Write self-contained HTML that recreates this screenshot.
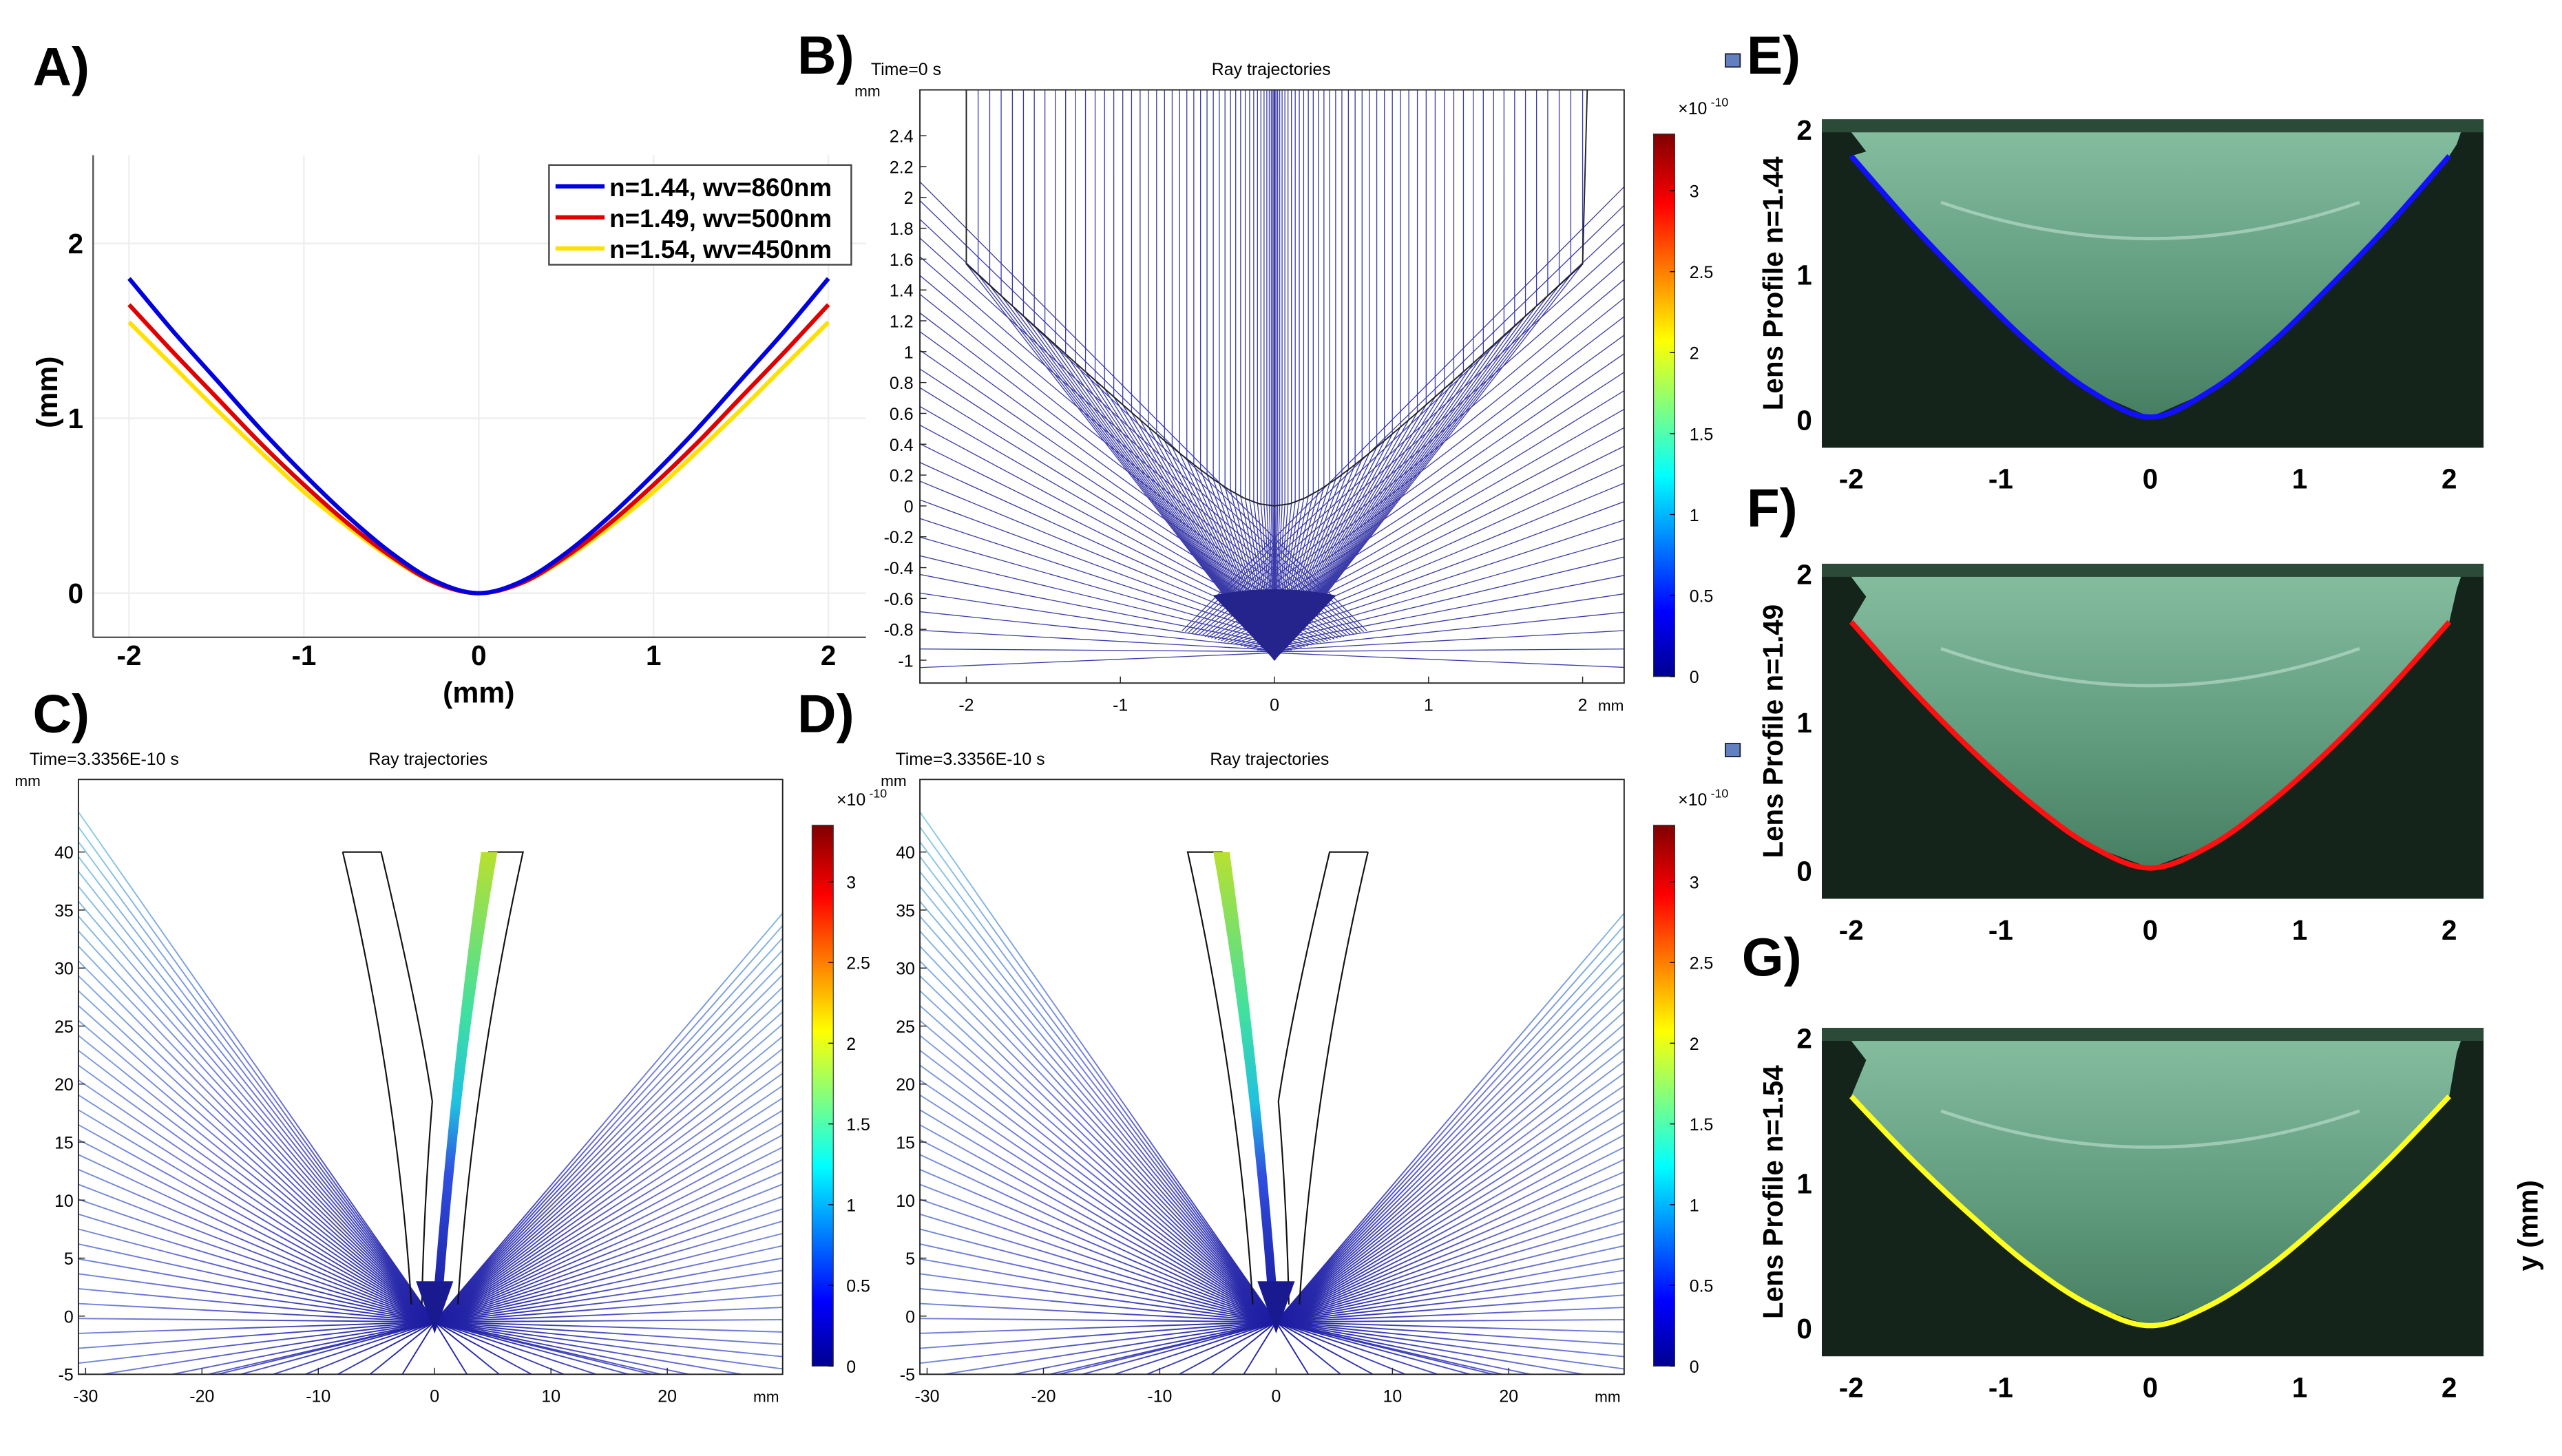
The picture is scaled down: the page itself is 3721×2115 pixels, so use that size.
<!DOCTYPE html>
<html><head><meta charset="utf-8"><style>
html,body{margin:0;padding:0;background:#fff}
svg{display:block}
text{font-family:"Liberation Sans",sans-serif}
</style></head><body>
<svg id="fig" xmlns="http://www.w3.org/2000/svg" width="3721" height="2115" viewBox="0 0 1568 891" preserveAspectRatio="none">
<defs>
<linearGradient id="jet" x1="0" y1="1" x2="0" y2="0">
<stop offset="0" stop-color="#00008f"/><stop offset="0.12" stop-color="#0000ff"/><stop offset="0.37" stop-color="#00ffff"/><stop offset="0.62" stop-color="#ffff00"/><stop offset="0.87" stop-color="#ff0000"/><stop offset="1" stop-color="#800000"/>
</linearGradient>
<linearGradient id="photo" x1="0" y1="0" x2="0" y2="1">
<stop offset="0" stop-color="#86bea0"/><stop offset="0.6" stop-color="#5f9a7c"/><stop offset="1" stop-color="#467e62"/>
</linearGradient>
<linearGradient id="band" x1="0" y1="0" x2="0" y2="1">
<stop offset="0" stop-color="#b8e030"/><stop offset="0.35" stop-color="#40e0a0"/><stop offset="0.55" stop-color="#20c0e0"/><stop offset="0.7" stop-color="#3050e0"/><stop offset="1" stop-color="#1a1aa0"/>
</linearGradient>
<radialGradient id="radC" gradientUnits="userSpaceOnUse" cx="266" cy="808" r="420">
<stop offset="0" stop-color="#1a1aa0"/><stop offset="0.4" stop-color="#6a70d8"/><stop offset="1" stop-color="#90e4e8"/>
</radialGradient>
<radialGradient id="radD" gradientUnits="userSpaceOnUse" cx="781" cy="808" r="420">
<stop offset="0" stop-color="#1a1aa0"/><stop offset="0.4" stop-color="#6a70d8"/><stop offset="1" stop-color="#90e4e8"/>
</radialGradient>
</defs>
<g id="root"></g>
</svg>
<script>
// ---- Panel A data ----
const aX = [-2,-1.75,-1.5,-1.25,-1,-0.75,-0.5,-0.25,0,0.25,0.5,0.75,1,1.25,1.5,1.75,2];
const aBlue = [1.80,1.50,1.22,0.94,0.68,0.44,0.23,0.07,0,0.07,0.23,0.44,0.68,0.94,1.22,1.50,1.80];
const aRed = [1.65,1.38,1.12,0.86,0.62,0.40,0.21,0.06,0,0.06,0.21,0.40,0.62,0.86,1.12,1.38,1.65];
const aYellow = [1.55,1.30,1.05,0.81,0.58,0.38,0.20,0.06,0,0.06,0.20,0.38,0.58,0.81,1.05,1.30,1.55];
const aXTicks = [-2,-1,0,1,2];
const aYTicks = [0,1,2];
const legendLabels = ["n=1.44, wv=860nm","n=1.49, wv=500nm","n=1.54, wv=450nm"];
// ---- Panel B data ----
const bXTicks = [-2,-1,0,1,2];
const bYTicks = [2.4,2.2,2,1.8,1.6,1.4,1.2,1,0.8,0.6,0.4,0.2,0,-0.2,-0.4,-0.6,-0.8,-1];
const cbTicks = [0,0.5,1,1.5,2,2.5,3];
// ---- Panel C/D data ----
const cXTicks = [-30,-20,-10,0,10,20];
const cYTicks = [40,35,30,25,20,15,10,5,0,-5];
// ---- Panels E-G data ----
const eXTicks = [-2,-1,0,1,2];
const eYTicks = [0,1,2];
const profileE = [1.82,1.35,0.92,0.52,0.20,0.02,0.20,0.52,0.92,1.35,1.82];
const profileF = [1.68,1.23,0.82,0.46,0.17,0.02,0.17,0.46,0.82,1.23,1.68];
const profileG = [1.60,1.17,0.78,0.43,0.16,0.02,0.16,0.43,0.78,1.17,1.60];
const profX = [-2,-1.6,-1.2,-0.8,-0.4,0,0.4,0.8,1.2,1.6,2];

const NS="http://www.w3.org/2000/svg";
const root=document.getElementById('root');
function el(tag,attrs,parent){const e=document.createElementNS(NS,tag);for(const k in attrs)e.setAttribute(k,attrs[k]);(parent||root).appendChild(e);return e;}
function txt(x,y,s,size,opts,parent){const t=el('text',Object.assign({x:x,y:y,'font-size':size},opts||{}),parent);t.textContent=s;return t;}
function lin(d0,d1,p0,p1){return v=>p0+(v-d0)*(p1-p0)/(d1-d0);}
function smooth(pts){let d='M'+pts[0][0]+','+pts[0][1];
 for(let i=0;i<pts.length-1;i++){const p0=pts[Math.max(0,i-1)],p1=pts[i],p2=pts[i+1],p3=pts[Math.min(pts.length-1,i+2)];
  d+=' C'+(p1[0]+(p2[0]-p0[0])/6)+','+(p1[1]+(p2[1]-p0[1])/6)+' '+(p2[0]-(p3[0]-p1[0])/6)+','+(p2[1]-(p3[1]-p1[1])/6)+' '+p2[0]+','+p2[1];}
 return d;}

// ---------- Panel letters ----------
[["A)",20,52],["B)",488,45],["C)",20,448],["D)",488,448],["E)",1069,45],["F)",1069,322],["G)",1066,597]].forEach(l=>{
 const t=txt(l[1],l[2],l[0],33,{'font-weight':'bold'});
 
 
});

// ---------- Panel A ----------
(function(){
 const g=el('g',{});
 
 
 const sx=lin(-2,2,79,507), sy=lin(0,2,363,149);
 aXTicks.forEach(v=>{el('line',{x1:sx(v),y1:95,x2:sx(v),y2:390,stroke:'#eeeeee','stroke-width':1},g);
  const t=txt(sx(v),407,String(v),17,{'text-anchor':'middle','font-weight':'bold'},g);
  });
 aYTicks.forEach(v=>{el('line',{x1:57,y1:sy(v),x2:530,y2:sy(v),stroke:'#eeeeee','stroke-width':1},g);
  const t=txt(51,sy(v)+6,String(v),17,{'text-anchor':'end','font-weight':'bold'},g);
  });
 el('line',{x1:57,y1:95,x2:57,y2:390,stroke:'#555','stroke-width':1},g);
 el('line',{x1:57,y1:390,x2:530,y2:390,stroke:'#555','stroke-width':1},g);
 const xt=txt(293,430,'(mm)',18,{'text-anchor':'middle','font-weight':'bold'},g);
 
 const yt=txt(0,0,'(mm)',18,{'text-anchor':'middle','font-weight':'bold',transform:'translate(35,240) rotate(-90)'},g);
 
 const series=[[aYellow,'#ffe000'],[aRed,'#e00000'],[aBlue,'#0000e0']];
 series.forEach((s,i)=>{
  const p=el('path',{d:smooth(aX.map((x,j)=>[sx(x),sy(s[0][j])])),fill:'none',stroke:s[1],'stroke-width':2.6},g);
  
  
 });
 const lg=el('g',{},g);
 
 
 el('rect',{x:336,y:101,width:185,height:61,fill:'#fff',stroke:'#444','stroke-width':1},lg);
 ['#0000e0','#e00000','#ffe000'].forEach((c,i)=>{
  const y=114+i*19;
  el('line',{x1:340,y1:y,x2:370,y2:y,stroke:c,'stroke-width':2.6},lg);
  const t=txt(373,y+6,legendLabels[i],15.5,{'font-weight':'bold'},lg);
  
 });
})();

// ---------- colorbar helper ----------
function colorbar(x,y0,y1,lx,name){
 const g=el('g',{});
 
 
 el('rect',{x:x,y:y0,width:13,height:y1-y0,fill:'url(#jet)',stroke:'#333','stroke-width':0.5},g);
 const s=lin(0,3.35,y1,y0);
 cbTicks.forEach(v=>{el('line',{x1:x+10,y1:s(v),x2:x+13,y2:s(v),stroke:'#000','stroke-width':0.6},g);
  const t=txt(lx,s(v)+4,String(v),10.5,{},g);
  });
 txt(x+15,y0-12,'×10',10.5,{},g);
 txt(x+35,y0-17,'-10',7.5,{},g);
}

// ---------- Panel B ----------
(function(){
 const g=el('g',{});
 
 
 const X0=563,X1=994,Y0=55,Y1=418;
 const sx=lin(0,1,780,874.3), sy=lin(0,1,309.6,215.2);
 const clip=el('clipPath',{id:'clipB'},g);el('rect',{x:X0,y:Y0,width:X1-X0,height:Y1-Y0},clip);
 const rg=el('g',{'clip-path':'url(#clipB)',stroke:'#3a3aa8','stroke-width':0.55,fill:'none'},g);
 const F=[0,-1.0];
 const surf=x=>Math.sqrt(0.09+0.85*x*x)-0.3;
 for(let i=-44;i<=44;i++){
  const x=Math.sign(i)*2*Math.pow(Math.abs(i)/44,1.7);
  const ys=surf(x);
  let d='M'+sx(x)+','+Y0+' L'+sx(x)+','+sy(ys)+' L'+sx(F[0])+','+sy(F[1]);
  el('path',{d:d},rg);
 }
 for(let i=0;i<=26;i++){
  const a=i/26;
  const yl=-1.05+a*3.2;
  el('line',{x1:sx(-2.35),y1:sy(yl),x2:sx(0.55*a+0.05),y2:sy(-0.95+0.14*a)},rg);
  el('line',{x1:sx(2.35),y1:sy(yl),x2:sx(-0.55*a-0.05),y2:sy(-0.95+0.14*a)},rg);
 }
 let ld='M'+sx(-2)+','+Y0+' L'+sx(-2)+','+sy(surf(-2));
 for(let x=-2;x<=2.001;x+=0.1)ld+=' L'+sx(x)+','+sy(surf(x));
 ld+=' L'+sx(2.03)+','+Y0;
 el('path',{d:ld,stroke:'#222','stroke-width':0.8},rg);
 el('path',{d:`M${sx(-0.4)},${sy(-0.58)} L${sx(0)},${sy(-1)} L${sx(0.4)},${sy(-0.58)} Q${sx(0)},${sy(-0.5)} ${sx(-0.4)},${sy(-0.58)}Z`,fill:'#24248c',stroke:'none'},rg);
 el('rect',{x:X0,y:Y0,width:X1-X0,height:Y1-Y0,fill:'none',stroke:'#222','stroke-width':0.8},g);
 bXTicks.forEach(v=>{el('line',{x1:sx(v),y1:Y1,x2:sx(v),y2:Y1-4,stroke:'#222','stroke-width':0.6},g);
  const t=txt(sx(v),435,String(v),10.5,{'text-anchor':'middle'},g);});
 bYTicks.forEach(v=>{el('line',{x1:X0,y1:sy(v),x2:X0+4,y2:sy(v),stroke:'#222','stroke-width':0.6},g);
  const t=txt(X0-4,sy(v)+4,String(v),10.5,{'text-anchor':'end'},g);});
 txt(978,435,'mm',9.5,{},g);txt(523,59,'mm',9.5,{},g);
 txt(533,46,'Time=0 s',10.5,{},g);
 const ti=txt(778,46,'Ray trajectories',10.5,{'text-anchor':'middle'},g);
 
 colorbar(1012,82,414,1034,'b-colorbar');
 el('rect',{x:1056,y:33,width:9,height:8,fill:'#6080c0',stroke:'#223','stroke-width':0.8});
 el('rect',{x:1056,y:455,width:9,height:8,fill:'#6080c0',stroke:'#223','stroke-width':0.8});
})();

// ---------- Panels C & D ----------
function panelCD(ox,mir,name,rad){
 const g=el('g',{});
 
 
 const X0=48+ox,X1=479+ox,Y0=477,Y1=841;
 const cx=266+ox;
 const sx=v=>cx+(mir?-v:v)*7.12, sxr=v=>cx+v*7.12, sy=lin(0,1,805.4,798.3);
 const id='clip'+name;
 const clip=el('clipPath',{id:id},g);el('rect',{x:X0,y:Y0,width:X1-X0,height:Y1-Y0},clip);
 const rg=el('g',{'clip-path':`url(#${id})`,stroke:`url(#${rad})`,'stroke-width':0.8,fill:'none'},g);
 for(let i=0;i<=40;i++){const y=-8+i*1.3;
  el('line',{x1:sxr(0),y1:sy(-0.5),x2:sxr(-31),y2:sy(y)},rg);}
 for(let i=0;i<=6;i++){el('line',{x1:sxr(0),y1:sy(-0.5),x2:sxr(-28+i*4),y2:sy(-7)},rg);}
 for(let i=0;i<=40;i++){const y=-8+i*1.1;
  el('line',{x1:sxr(0),y1:sy(-0.5),x2:sxr(31),y2:sy(y)},rg);}
 for(let i=0;i<=6;i++){el('line',{x1:sxr(0),y1:sy(-0.5),x2:sxr(28-i*4),y2:sy(-7)},rg);}
 const L=el('g',{fill:'none',stroke:'#111','stroke-width':0.9},g);
 const P=(x,y)=>sx(x)+','+sy(y);
 el('path',{d:`M${P(4.0,40)} L${P(5.4,40)} Q${P(2.2,22)} ${P(0.6,0.5)} L${P(-0.2,0.5)} Q${P(1.5,22)} ${P(4.0,40)}Z`,fill:'url(#band)',stroke:'none'},g);
 el('path',{d:`M${P(4.6,40)} L${P(7.6,40)} Q${P(3.2,20)} ${P(2.0,1)} M${P(4.6,40)} Q${P(1.0,20)} ${P(0.5,1)}`},L);
 el('path',{d:`M${P(-7.9,40)} L${P(-4.6,40)} Q${P(-1.3,26)} ${P(-0.2,18.5)} Q${P(-0.9,10)} ${P(-1.1,1)} M${P(-7.9,40)} Q${P(-3.2,20)} ${P(-2.0,1)}`},L);
 el('path',{d:`M${P(-1.6,3)} L${P(0,-1.5)} L${P(1.6,3)}Z`,fill:'#1a1a90',stroke:'none'},g);
 el('rect',{x:X0,y:Y0,width:X1-X0,height:Y1-Y0,fill:'none',stroke:'#222','stroke-width':0.8},g);
 cXTicks.forEach(v=>{el('line',{x1:sxr(v),y1:Y1,x2:sxr(v),y2:Y1-4,stroke:'#222','stroke-width':0.6},g);
  const t=txt(sxr(v),858,String(v),10.5,{'text-anchor':'middle'},g);});
 cYTicks.forEach(v=>{el('line',{x1:X0,y1:sy(v),x2:X0+4,y2:sy(v),stroke:'#222','stroke-width':0.6},g);
  const t=txt(X0-3,sy(v)+4,String(v),10.5,{'text-anchor':'end'},g);});
 txt(X1-18,858,'mm',9.5,{},g);txt(X0-39+(ox?15:0),481,'mm',9.5,{},g);
 txt(X0-30+(ox?15:0),468,'Time=3.3356E-10 s',10.5,{},g);
 const ti=txt(cx-4,468,'Ray trajectories',10.5,{'text-anchor':'middle'},g);
 
}
panelCD(0,false,'panel-c-ray-plot','radC');
panelCD(515,true,'panel-d-ray-plot','radD');
colorbar(497,505,836,518,'c-colorbar');
colorbar(1012,505,836,1034,'d-colorbar');

// ---------- Panels E, F, G ----------
function photo(y0,y1,prof,color,label,name){
 const g=el('g',{});
 
 
 const X0=1115,X1=1520;
 const sx=lin(0,1,1316,1407.5);
 const top=y0+2, sy=lin(0,1,y1-17,y1-17-(y1-17-top)/2.05);
 el('rect',{x:X0,y:y0,width:X1-X0,height:y1-y0,fill:'#15241b'},g);
 const pts=[[-2.05,2.05],[-1.9,1.85]].concat(profX.map((x,i)=>[x,prof[i]])).concat([[2.05,1.9],[2.1,2.05]]);
 el('polygon',{points:pts.map(p=>sx(p[0])+','+sy(p[1])).join(' '),fill:'url(#photo)'},g);
 el('rect',{x:X0,y:y0,width:X1-X0,height:8,fill:'#2c4a38'},g);
 el('path',{d:`M${sx(-1.4)},${sy(1.5)} Q${sx(0)},${sy(1.0)} ${sx(1.4)},${sy(1.5)}`,stroke:'#cfeede','stroke-width':2,fill:'none',opacity:0.5},g);
 const c=el('path',{d:smooth(profX.map((x,i)=>[sx(x),sy(prof[i])])),fill:'none',stroke:color,'stroke-width':3.2},g);
 
 
 eXTicks.forEach(v=>{const t=txt(sx(v),y1+25,String(v),17,{'text-anchor':'middle','font-weight':'bold'},g);
  });
 eYTicks.forEach(v=>{const t=txt(X0-6,sy(v)+6,String(v),17,{'text-anchor':'end','font-weight':'bold'},g);
  });
 const yl=txt(0,0,label,17,{'text-anchor':'middle','font-weight':'bold',transform:`translate(1091,${(y0+y1)/2}) rotate(-90)`},g);
 
}
photo(73,274,profileE,'#1010ff','Lens Profile n=1.44','panel-e-photo');
photo(345,550,profileF,'#ff1010','Lens Profile n=1.49','panel-f-photo');
photo(629,830,profileG,'#ffff20','Lens Profile n=1.54','panel-g-photo');
const ymm=txt(0,0,'y (mm)',17,{'text-anchor':'middle','font-weight':'bold',transform:'translate(1553,750) rotate(-90)'});


</script>
</body></html>
